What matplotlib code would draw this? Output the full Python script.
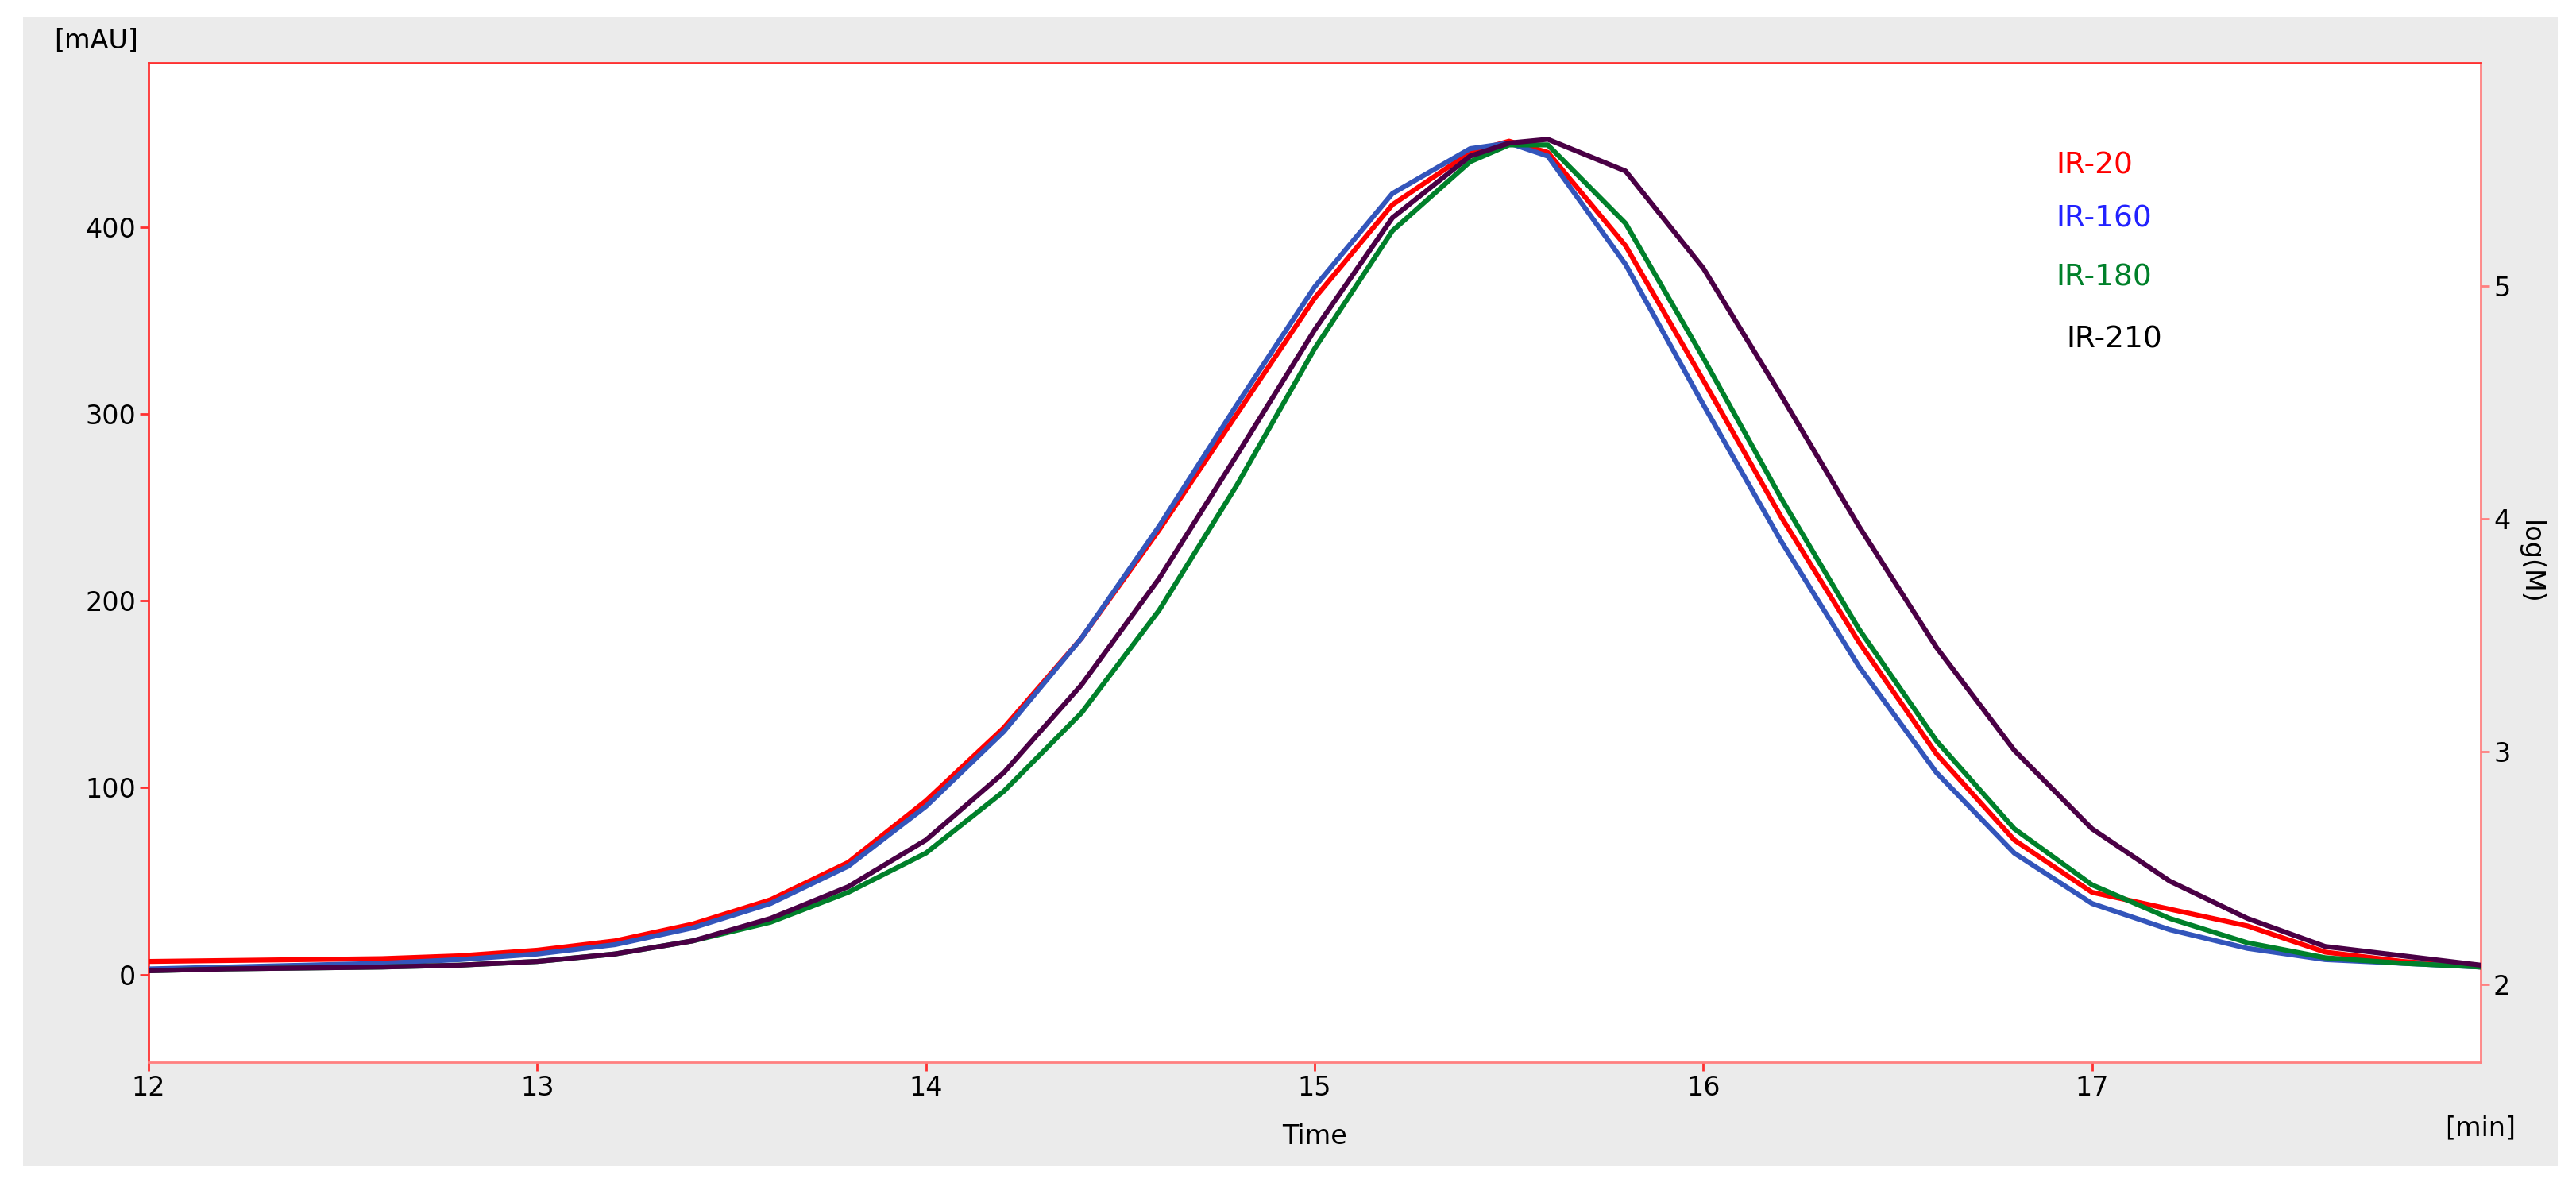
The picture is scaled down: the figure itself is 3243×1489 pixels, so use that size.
import matplotlib
matplotlib.use("Agg")
import matplotlib.pyplot as plt
from matplotlib.patches import Rectangle

t = [12.0,12.2,12.4,12.6,12.8,13.0,13.2,13.4,13.6,13.8,14.0,14.2,14.4,14.6,14.8,15.0,15.2,15.4,15.5,15.6,15.8,16.0,16.2,16.4,16.6,16.8,17.0,17.2,17.4,17.6,17.8,18.0]
ir20  = [7,7.5,8,8.5,10,13,18,27,40,60,93,132,180,238,300,362,412,440,446,440,390,318,245,178,118,72,44,35,26,12,7,4]
ir160 = [3,4,5,6,8,11,16,25,38,58,90,130,180,240,305,368,418,442,445,438,380,305,232,165,108,65,38,24,14,8,6,4]
ir180 = [2,3,3.5,4,5,7,11,18,28,44,65,98,140,195,262,335,398,435,444,444,402,330,255,185,125,78,48,30,17,9,6,4]
ir210 = [2,3,3.5,4,5,7,11,18,30,47,72,108,155,212,278,345,405,438,445,447,430,378,310,240,175,120,78,50,30,15,10,5]
names = ["IR-20","IR-160","IR-180","IR-210"]
colors = ["#ff0000","#3355bb","#00802a","#4a0045"]
textcolors = ["#ff0000","#2222ff","#00802a","#000000"]
xticks = [12,13,14,15,16,17]
yticks = [0,100,200,300,400]
rticks = [2,3,4,5]

plt.rcParams['font.family'] = ['DejaVu Sans']
fig = plt.figure(figsize=(32.43,14.89), dpi=100, facecolor="white")
fig.patches.append(Rectangle((0.009,0.015),0.984,0.97, transform=fig.transFigure,
                             facecolor="#ebebeb", edgecolor="none", zorder=-10))
ax = fig.add_axes([0.0577,0.102,0.9053,0.845])
ax.set_facecolor("white")
order = [3,2,1,0]
series = [ir20, ir160, ir180, ir210]
for i in [1,2,3,0]:
    ax.plot(t, series[i], color=colors[i], lw=4.5, zorder=3+i)
ax.set_xlim(12,18)
ax.set_ylim(-47,488)
ax.set_xticks(xticks)
ax.set_yticks(yticks)
for s in ax.spines.values():
    s.set_color("#ff3030"); s.set_linewidth(2)
ax.spines['right'].set_color("#ff8080")
ax.spines['bottom'].set_color("#ff8080")
ax.tick_params(colors="#ff3030", labelcolor="black", labelsize=24, length=8, width=2)
ax2 = ax.twinx()
ax2.set_ylim(1.667,5.957)
ax2.set_yticks(rticks)
ax2.tick_params(colors="#ff8080", labelcolor="black", labelsize=24, length=8, width=2)
for s in ax2.spines.values():
    s.set_visible(False)
ax2.set_ylabel("log(M)", rotation=270, fontsize=24, labelpad=30)
ax.set_xlabel("Time", fontsize=24, labelpad=20)
fig.text(0.0577-0.004, 0.955, "[mAU]", fontsize=24, ha="right", va="bottom")
fig.text(0.963, 0.035, "[min]", fontsize=24, ha="center", va="bottom")
ys = [0.86,0.815,0.765,0.713]
xs = [0.798,0.798,0.798,0.802]
for n,c,y,x in zip(names,textcolors,ys,xs):
    fig.text(x, y, n, color=c, fontsize=27, ha="left", va="center")
fig.savefig("out.png", dpi=100, facecolor="white")
